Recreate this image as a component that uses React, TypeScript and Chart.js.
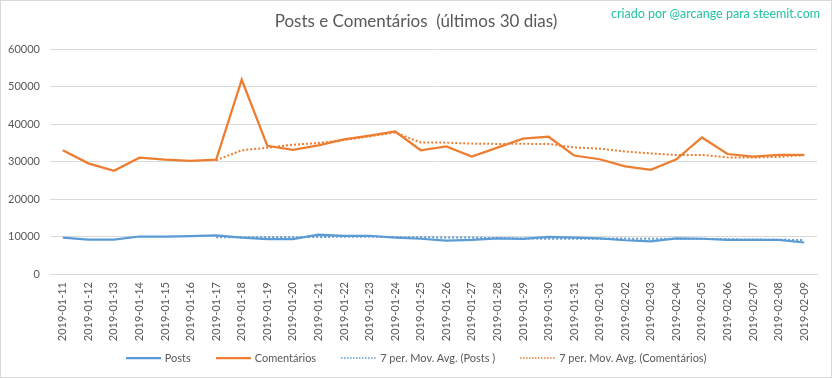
import React, { useEffect, useRef } from "react";
import { Chart, registerables } from "chart.js";

Chart.register(...registerables);

const categories = [
  "2019-01-11", "2019-01-12", "2019-01-13", "2019-01-14", "2019-01-15",
  "2019-01-16", "2019-01-17", "2019-01-18", "2019-01-19", "2019-01-20",
  "2019-01-21", "2019-01-22", "2019-01-23", "2019-01-24", "2019-01-25",
  "2019-01-26", "2019-01-27", "2019-01-28", "2019-01-29", "2019-01-30",
  "2019-01-31", "2019-02-01", "2019-02-02", "2019-02-03", "2019-02-04",
  "2019-02-05", "2019-02-06", "2019-02-07", "2019-02-08", "2019-02-09",
];

const posts = [
  9700, 9200, 9200, 10000, 10000, 10100, 10300, 9700, 9300, 9300,
  10500, 10200, 10200, 9700, 9400, 8900, 9100, 9500, 9400, 9900,
  9700, 9500, 9000, 8700, 9500, 9400, 9100, 9100, 9100, 8400,
];

const comentarios = [
  33000, 29500, 27500, 31000, 30500, 30200, 30500, 51800, 34200, 33100,
  34300, 35900, 36900, 38000, 33000, 34000, 31300, 33700, 36100, 36600,
  31600, 30600, 28700, 27800, 30600, 36400, 32000, 31300, 31800, 31800,
];

const maPosts = [
  null, null, null, null, null, null, 9790, 9790, 9800, 9810,
  9890, 9910, 9930, 9840, 9800, 9740, 9710, 9570, 9460, 9410,
  9410, 9430, 9440, 9390, 9390, 9390, 9270, 9190, 9130, 9040,
];

const maComentarios = [
  null, null, null, null, null, null, 30310, 33000, 33670, 34470,
  34940, 35710, 36670, 37740, 35060, 35030, 34770, 34690, 34710, 34670,
  33760, 33410, 32660, 32160, 31710, 31760, 31100, 31060, 31230, 31670,
];

const yTicks = [0, 10000, 20000, 30000, 40000, 50000, 60000];

const seriesNames = [
  "Posts",
  "Comentários",
  "7 per. Mov. Avg. (Posts )",
  "7 per. Mov. Avg. (Comentários)",
];

const BLUE = "#5b9bd5";
const ORANGE = "#ed7d31";
const TEXT = "#595959";
const FONT = "Lato, 'Open Sans', sans-serif";

const seriesColors = [BLUE, ORANGE, BLUE, ORANGE];
const seriesDotted = [false, false, true, true];

export default function App() {
  const ref = useRef<HTMLCanvasElement | null>(null);

  useEffect(() => {
    if (!ref.current) return;
    const chart = new Chart(ref.current, {
      type: "line",
      data: {
        labels: categories,
        datasets: [
          {
            label: seriesNames[0],
            data: posts,
            borderColor: BLUE,
            backgroundColor: BLUE,
            borderWidth: 2.25,
            pointRadius: 0,
            tension: 0,
          },
          {
            label: seriesNames[1],
            data: comentarios,
            borderColor: ORANGE,
            backgroundColor: ORANGE,
            borderWidth: 2.25,
            pointRadius: 0,
            tension: 0,
          },
          {
            label: seriesNames[2],
            data: maPosts,
            borderColor: BLUE,
            backgroundColor: BLUE,
            borderWidth: 2,
            borderDash: [2, 2],
            pointRadius: 0,
            tension: 0,
          },
          {
            label: seriesNames[3],
            data: maComentarios,
            borderColor: ORANGE,
            backgroundColor: ORANGE,
            borderWidth: 2,
            borderDash: [2, 2],
            pointRadius: 0,
            tension: 0,
          },
        ],
      },
      options: {
        responsive: false,
        animation: false,
        layout: { padding: { left: 0, right: 14, top: 48, bottom: 29 } },
        plugins: {
          title: { display: false },
          tooltip: { enabled: false },
          legend: { display: false },
        },
        scales: {
          x: {
            offset: true,
            afterFit: (scale: any) => {
              scale.height = 74;
            },
            grid: { display: false, drawTicks: false },
            border: { display: true, color: "#d9d9d9" },
            ticks: {
              minRotation: 90,
              maxRotation: 90,
              autoSkip: false,
              padding: 8,
              color: TEXT,
              font: { family: FONT, size: 11 },
            },
          },
          y: {
            min: 0,
            max: 60000,
            afterFit: (scale: any) => {
              scale.width = 49;
            },
            afterBuildTicks: (scale: any) => {
              scale.ticks = yTicks.map((v) => ({ value: v }));
            },
            grid: { color: "#d9d9d9", drawTicks: false },
            border: { display: false },
            ticks: {
              padding: 10,
              color: TEXT,
              font: { family: FONT, size: 11 },
              callback: (v: any) => String(v),
            },
          },
        },
      },
    });
    return () => chart.destroy();
  }, []);

  return (
    <div
      style={{
        position: "absolute",
        left: 0,
        top: 0,
        width: 832,
        height: 378,
        boxSizing: "border-box",
        border: "1px solid #d9d9d9",
        background: "#fff",
        overflow: "hidden",
      }}
    >
      <canvas ref={ref} width={830} height={376} style={{ display: "block" }} />
      <div
        style={{
          position: "absolute",
          left: 0,
          width: 830,
          top: 10,
          textAlign: "center",
          fontFamily: FONT,
          fontSize: 17,
          color: TEXT,
          lineHeight: "20px",
          whiteSpace: "pre",
        }}
      >
        {"Posts e Comentários  (últimos 30 dias)"}
      </div>
      <div
        style={{
          position: "absolute",
          right: 11,
          top: 5,
          fontFamily: FONT,
          fontSize: 12.5,
          color: "#22c3a0",
          lineHeight: "16px",
          whiteSpace: "pre",
        }}
      >
        {"criado por @arcange para steemit.com"}
      </div>
      <div
        style={{
          position: "absolute",
          left: 0,
          width: 830,
          top: 349,
          height: 16,
          display: "flex",
          justifyContent: "center",
          alignItems: "center",
          fontFamily: FONT,
          fontSize: 11,
          color: TEXT,
          whiteSpace: "pre",
        }}
      >
        {seriesNames.map((name, i) => (
          <div
            key={name}
            style={{
              display: "flex",
              alignItems: "center",
              marginRight: i < seriesNames.length - 1 ? 25 : 0,
            }}
          >
            <svg width={35} height={4} style={{ marginRight: 4, display: "block" }}>
              <line
                x1={0}
                y1={2}
                x2={35}
                y2={2}
                stroke={seriesColors[i]}
                strokeWidth={seriesDotted[i] ? 1.5 : 2.25}
                strokeDasharray={seriesDotted[i] ? "1.5 1.5" : undefined}
              />
            </svg>
            <span style={{ lineHeight: "16px" }}>{name}</span>
          </div>
        ))}
      </div>
    </div>
  );
}
